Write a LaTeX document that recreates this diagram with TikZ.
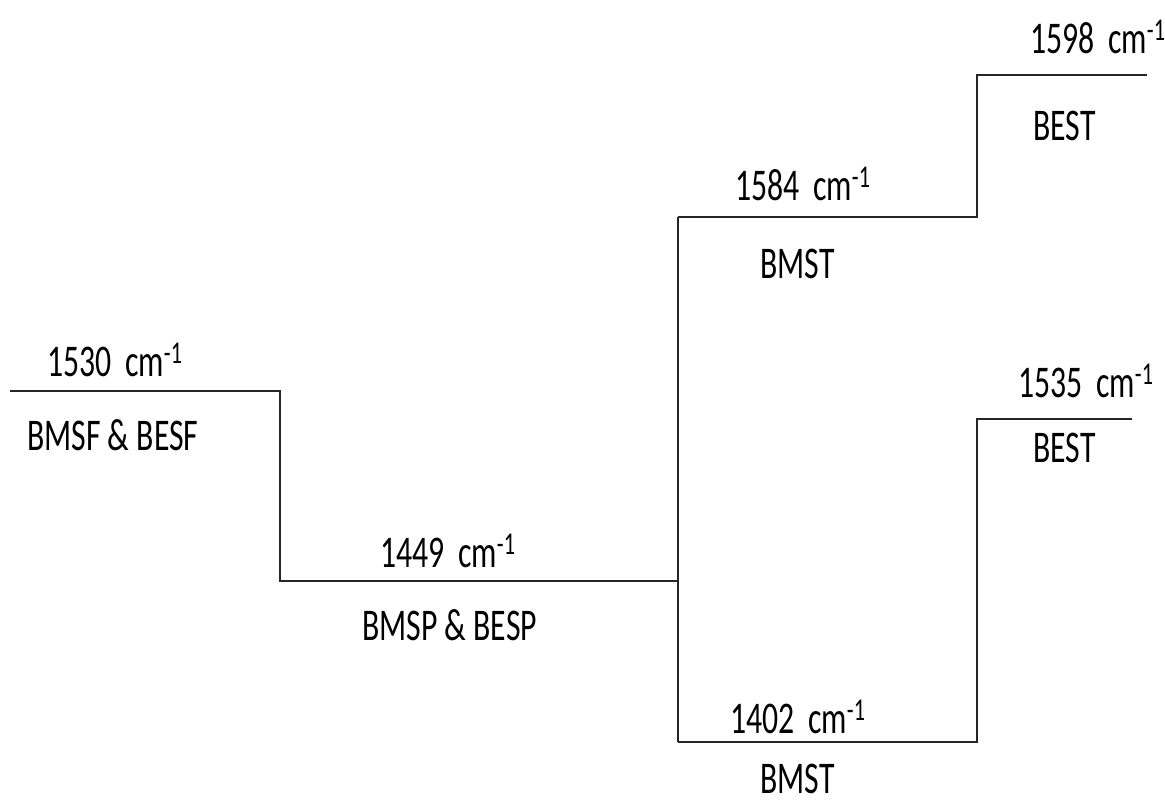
\documentclass[tikz,border=0pt]{standalone}
\usepackage{fontspec}
\setmainfont{Carlito}[FakeStretch=0.7]
\usetikzlibrary{positioning}
\tikzset{level/.style={line width=2pt,black!85},lbl/.style={anchor=base west,inner sep=0pt,font=\fontsize{34}{40}\selectfont}}
\newcommand{\wavenum}[1]{#1\hspace{0.3em}cm\textsuperscript{-1}}

\begin{document}
\begin{tikzpicture}[x=0.75pt,y=-0.75pt]
\useasboundingbox (0,0) rectangle (1165,803);

\coordinate (a0) at (10,391);
\coordinate (a1) at (280,391);
\coordinate (b0) at (280,581);
\coordinate (b1) at (678,581);
\coordinate (c0) at (678,217);
\coordinate (c1) at (977,217);
\coordinate (d0) at (977,75);
\coordinate (d1) at (1147,75);
\coordinate (e0) at (678,742);
\coordinate (e1) at (977,742);
\coordinate (f0) at (977,419);
\coordinate (f1) at (1132,419);

\node (t1530) at (47,376) [lbl] {\wavenum{1530}};
\node (n1530) at (27,450) [lbl] {BMSF \& BESF};
\node (t1449) at (380,567) [lbl] {\wavenum{1449}};
\node (n1449) at (362,640) [lbl] {BMSP \& BESP};
\node (t1584) at (735,200) [lbl] {\wavenum{1584}};
\node (n1584) at (760,278) [lbl] {BMST};
\node (t1598) at (1030,53) [lbl] {\wavenum{1598}};
\node (n1598) at (1033,140) [lbl] {BEST};
\node (t1535) at (1018,397) [lbl] {\wavenum{1535}};
\node (n1535) at (1033,462) [lbl] {BEST};
\node (t1402) at (730,733) [lbl] {\wavenum{1402}};
\node (n1402) at (760,793) [lbl] {BMST};

\draw [level] (a0) -- (a1) -- (b0) -- (b1);
\draw [level] (c0) -- (e0);
\draw [level] (c0) -- (c1) -- (d0) -- (d1);
\draw [level] (e0) -- (e1) -- (f0) -- (f1);
\end{tikzpicture}
\end{document}
